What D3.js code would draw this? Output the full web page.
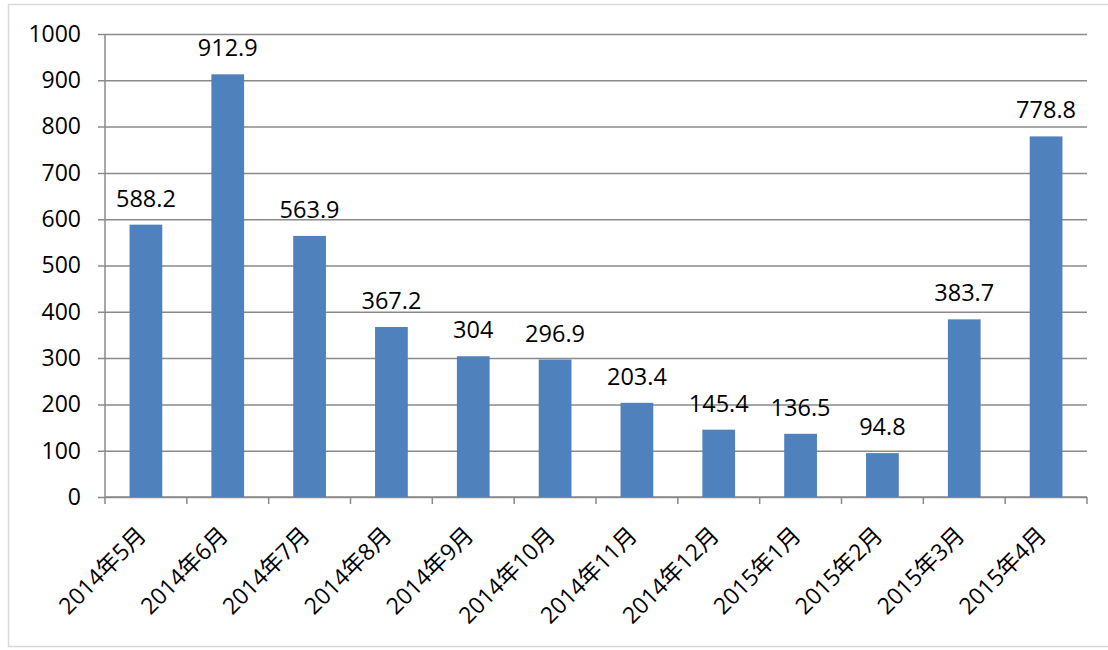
<!DOCTYPE html>
<html lang="zh">
<head>
  <meta charset="UTF-8">
  <title>Monthly bar chart</title>
  <script src="https://d3js.org/d3.v7.min.js"></script>
  <style>
    body { margin: 0; background: #fff; }
    text { font-family: "Open Sans", "Noto Sans CJK SC", sans-serif; fill: #000; }
  </style>
</head>
<body>
<div id="chart"></div>
<script>
  // data
  const months = ["2014年5月", "2014年6月", "2014年7月", "2014年8月", "2014年9月", "2014年10月",
                  "2014年11月", "2014年12月", "2015年1月", "2015年2月", "2015年3月", "2015年4月"];
  const values = [588.2, 912.9, 563.9, 367.2, 304, 296.9, 203.4, 145.4, 136.5, 94.8, 383.7, 778.8];
  const yTicks = [0, 100, 200, 300, 400, 500, 600, 700, 800, 900, 1000];

  const W = 1108, H = 650;
  const plotL = 105, plotR = 1087, plotT = 34, plotB = 497;
  const gridColor = "#8a8a8a";

  const svg = d3.select("#chart").append("svg")
    .attr("width", W).attr("height", H);

  // outer frame
  svg.append("rect")
    .attr("x", 8.5).attr("y", 4.5)
    .attr("width", 1112).attr("height", 642)
    .attr("fill", "#fff")
    .attr("stroke", "#d9d9d9")
    .attr("stroke-width", 1.5);

  const x = d3.scaleBand()
    .domain(months)
    .range([plotL, plotR])
    .paddingInner(0.6)
    .paddingOuter(0.3);

  const y = d3.scaleLinear()
    .domain([0, 1000])
    .range([plotB, plotT]);

  // y axis with gridlines
  const yAxis = svg.append("g")
    .attr("transform", `translate(${plotL},0)`)
    .call(d3.axisLeft(y).tickValues(yTicks).tickFormat(d3.format("d")).tickSize(7).tickPadding(17));
  yAxis.select(".domain").remove();
  yAxis.selectAll(".tick line")
    .attr("x2", plotR - plotL)
    .attr("x1", -7)
    .attr("stroke", gridColor)
    .attr("stroke-width", 1.5);
  yAxis.selectAll(".tick text")
    .style("font-size", "23px");

  // vertical axis line
  svg.append("line")
    .attr("x1", plotL).attr("x2", plotL)
    .attr("y1", plotT).attr("y2", plotB)
    .attr("stroke", gridColor)
    .attr("stroke-width", 1.5);

  // x axis: line, boundary ticks
  const xg = svg.append("g").attr("transform", `translate(0,${plotB})`);
  xg.append("line")
    .attr("x1", plotL).attr("x2", plotR)
    .attr("stroke", gridColor).attr("stroke-width", 1.5);
  const step = x.step();
  xg.selectAll(".bt")
    .data(d3.range(months.length + 1))
    .enter().append("line")
    .attr("x1", i => plotL + i * step)
    .attr("x2", i => plotL + i * step)
    .attr("y1", 0).attr("y2", 7)
    .attr("stroke", gridColor).attr("stroke-width", 1.5);

  // bars
  svg.selectAll(".bar")
    .data(values)
    .enter().append("rect")
    .attr("class", "bar")
    .attr("x", (d, i) => x(months[i]))
    .attr("y", d => y(d))
    .attr("width", x.bandwidth())
    .attr("height", d => plotB - y(d))
    .attr("fill", "#4f81bd");

  // value labels
  svg.selectAll(".val")
    .data(values)
    .enter().append("text")
    .attr("x", (d, i) => x(months[i]) + x.bandwidth() / 2)
    .attr("y", d => y(d) - 18)
    .attr("text-anchor", "middle")
    .style("font-size", "23.5px")
    .text(d => d);

  // category labels, rotated
  svg.selectAll(".cat")
    .data(months)
    .enter().append("text")
    .attr("transform", d => `translate(${x(d) + x.bandwidth() / 2 - 4},531) rotate(-45)`)
    .attr("text-anchor", "end")
    .attr("dy", "0.35em")
    .style("font-size", "23px")
    .text(d => d);
</script>
</body>
</html>
